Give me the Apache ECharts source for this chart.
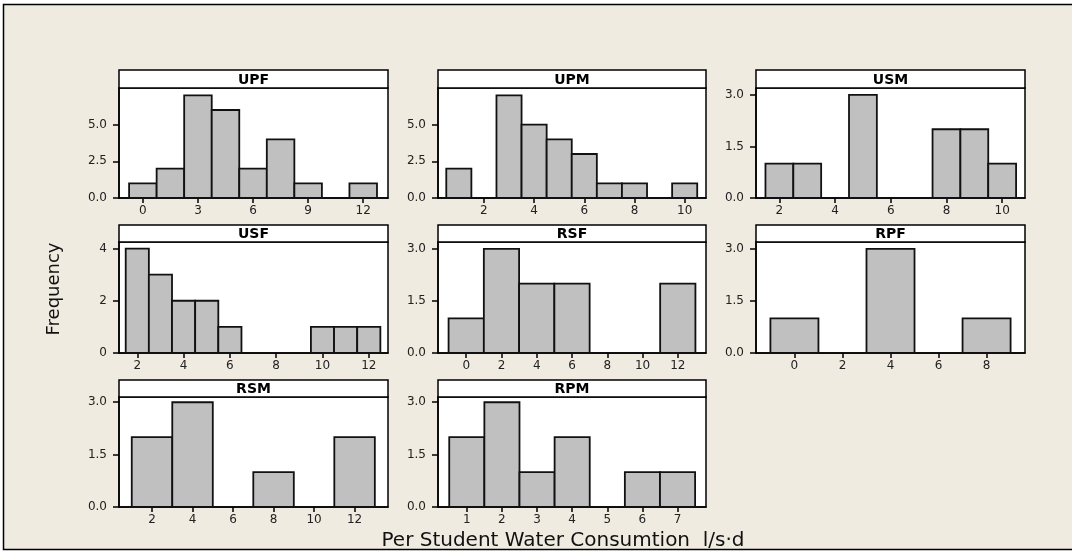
<!DOCTYPE html>
<html>
<head>
<meta charset="utf-8" />
<title>Per Student Water Consumtion</title>
<script src="https://cdn.jsdelivr.net/npm/echarts@6.0.0/dist/echarts.min.js"></script>
<style>
  body { margin: 0; background: #fff; }
  #main { width: 1072px; height: 554px; }
</style>
</head>
<body>
<div id="main"></div>
<script type="text/javascript">
  // histogram data, one set of arrays per panel (bin centres, frequencies)
  var panelNames = ['UPF', 'UPM', 'USM', 'USF', 'RSF', 'RPF', 'RSM', 'RPM'];

  var binsUPF = [0, 1.5, 3, 4.5, 6, 7.5, 9, 10.5, 12];
  var freqUPF = [1, 2, 7, 6, 2, 4, 1, 0, 1];
  var binsUPM = [1, 2, 3, 4, 5, 6, 7, 8, 9, 10];
  var freqUPM = [2, 0, 7, 5, 4, 3, 1, 1, 0, 1];
  var binsUSM = [2, 3, 4, 5, 6, 7, 8, 9, 10];
  var freqUSM = [1, 1, 0, 3, 0, 0, 2, 2, 1];
  var binsUSF = [2, 3, 4, 5, 6, 7, 8, 9, 10, 11, 12];
  var freqUSF = [4, 3, 2, 2, 1, 0, 0, 0, 1, 1, 1];
  var binsRSF = [0, 2, 4, 6, 8, 10, 12];
  var freqRSF = [1, 3, 2, 2, 0, 0, 2];
  var binsRPF = [0, 2, 4, 6, 8];
  var freqRPF = [1, 0, 3, 0, 1];
  var binsRSM = [2, 4, 6, 8, 10, 12];
  var freqRSM = [2, 3, 0, 1, 0, 2];
  var binsRPM = [1, 2, 3, 4, 5, 6, 7];
  var freqRPM = [2, 3, 1, 2, 0, 1, 1];

  var binWidths = [1.5, 1, 1, 1, 2, 2, 2, 1];

  // tick labels
  var xTicksUPF = [0, 3, 6, 9, 12];
  var xTicksUPM = [2, 4, 6, 8, 10];
  var xTicksUSM = [2, 4, 6, 8, 10];
  var xTicksUSF = [2, 4, 6, 8, 10, 12];
  var xTicksRSF = [0, 2, 4, 6, 8, 10, 12];
  var xTicksRPF = [0, 2, 4, 6, 8];
  var xTicksRSM = [2, 4, 6, 8, 10, 12];
  var xTicksRPM = [1, 2, 3, 4, 5, 6, 7];

  var yTicksUPF = [0, 2.5, 5];
  var yTicksUPM = [0, 2.5, 5];
  var yTicksUSM = [0, 1.5, 3];
  var yTicksUSF = [0, 2, 4];
  var yTicksRSF = [0, 1.5, 3];
  var yTicksRPF = [0, 1.5, 3];
  var yTicksRSM = [0, 1.5, 3];
  var yTicksRPM = [0, 1.5, 3];

  var allBins = [binsUPF, binsUPM, binsUSM, binsUSF, binsRSF, binsRPF, binsRSM, binsRPM];
  var allFreq = [freqUPF, freqUPM, freqUSM, freqUSF, freqRSF, freqRPF, freqRSM, freqRPM];
  var allXTicks = [xTicksUPF, xTicksUPM, xTicksUSM, xTicksUSF, xTicksRSF, xTicksRPF, xTicksRSM, xTicksRPM];
  var allYTicks = [yTicksUPF, yTicksUPM, yTicksUSM, yTicksUSF, yTicksRSF, yTicksRPF, yTicksRSM, yTicksRPM];

  // axis extents of each panel
  var xMins = [-1.3, 0.17, 1.16, 1.21, -1.6, -1.6, 0.37, 0.18];
  var xMaxs = [13.35, 10.85, 10.82, 12.83, 13.6, 9.6, 13.65, 7.81];
  var yMaxs = [7.5, 7.5, 3.2, 4.25, 3.2, 3.2, 3.15, 3.15];

  // layout (pixels)
  var colLeft = [119, 438, 756];
  var colWidth = [269, 268, 269];
  var headTop = [70, 225, 380];
  var plotTop = [88, 242, 397];
  var plotHeight = [110, 111, 110];

  var labelFont = 'DejaVu Sans';
  var option = {
    backgroundColor: '#fff',
    animation: false,
    grid: [], xAxis: [], yAxis: [], series: [],
    graphic: [{
      type: 'rect',
      shape: { x: 3.5, y: 4.5, width: 1072, height: 545 },
      style: { fill: '#EFEBE1', stroke: '#000', lineWidth: 1.5 },
      z: -10
    }, {
      type: 'text',
      x: 54, y: 289, rotation: Math.PI / 2,
      style: { text: 'Frequency', font: '18px "DejaVu Sans"', fill: '#111',
        textAlign: 'center', textVerticalAlign: 'middle', align: 'center', verticalAlign: 'middle' }
    }, {
      type: 'text',
      x: 563, y: 541,
      style: { text: 'Per Student Water Consumtion  l/s\u00B7d', font: '20px "DejaVu Sans"', fill: '#111',
        textAlign: 'center', textVerticalAlign: 'middle', align: 'center', verticalAlign: 'middle' }
    }]
  };

  function fmtY(ticks) {
    var ints = ticks.every(function (t) { return Math.round(t) === t; });
    return function (v) { return ints ? String(v) : v.toFixed(1); };
  }

  panelNames.forEach(function (name, i) {
    var row = Math.floor(i / 3), col = i % 3;
    var w = binWidths[i];
    option.grid.push({
      left: colLeft[col], top: plotTop[row], width: colWidth[col], height: plotHeight[row],
      show: true, backgroundColor: '#fff', borderColor: '#000', borderWidth: 1.5
    });
    option.xAxis.push({
      type: 'value', gridIndex: i, min: xMins[i], max: xMaxs[i],
      splitLine: { show: false },
      axisLine: { show: true, onZero: false, lineStyle: { color: '#000', width: 1.5 } },
      axisTick: { show: true, length: 5, customValues: allXTicks[i], lineStyle: { color: '#000', width: 1.5 } },
      axisLabel: { customValues: allXTicks[i], margin: 7, color: '#222', fontFamily: labelFont, fontSize: 12 }
    });
    option.yAxis.push({
      type: 'value', gridIndex: i, min: 0, max: yMaxs[i],
      splitLine: { show: false },
      axisLine: { show: true, onZero: false, lineStyle: { color: '#000', width: 1.5 } },
      axisTick: { show: true, length: 6, customValues: allYTicks[i], lineStyle: { color: '#000', width: 1.5 } },
      axisLabel: { customValues: allYTicks[i], margin: 12, color: '#222', fontFamily: labelFont, fontSize: 12,
        formatter: fmtY(allYTicks[i]) }
    });
    option.series.push({
      type: 'custom', name: name, xAxisIndex: i, yAxisIndex: i,
      data: allBins[i].map(function (c, k) { return [c, allFreq[i][k]]; }),
      renderItem: function (params, api) {
        var c = api.value(0), n = api.value(1);
        if (!n) return null;
        var p0 = api.coord([c - w / 2, n]);
        var p1 = api.coord([c + w / 2, 0]);
        return {
          type: 'rect',
          shape: { x: p0[0], y: p0[1], width: p1[0] - p0[0], height: p1[1] - p0[1] },
          style: { fill: '#C0C0C0', stroke: '#111', lineWidth: 1.8 }
        };
      }
    });
    // header strip with the panel name
    option.graphic.push({
      type: 'rect',
      shape: { x: colLeft[col], y: headTop[row], width: colWidth[col], height: plotTop[row] - headTop[row] },
      style: { fill: '#fff', stroke: '#000', lineWidth: 1.5 }
    });
    option.graphic.push({
      type: 'text',
      x: colLeft[col] + colWidth[col] / 2, y: (headTop[row] + plotTop[row]) / 2 + 1,
      style: { text: name, font: 'bold 14px "DejaVu Sans"', fill: '#000',
        textAlign: 'center', textVerticalAlign: 'middle', align: 'center', verticalAlign: 'middle' }
    });
  });

  var myChart = echarts.init(document.getElementById('main'));
  myChart.setOption(option);
</script>
</body>
</html>
